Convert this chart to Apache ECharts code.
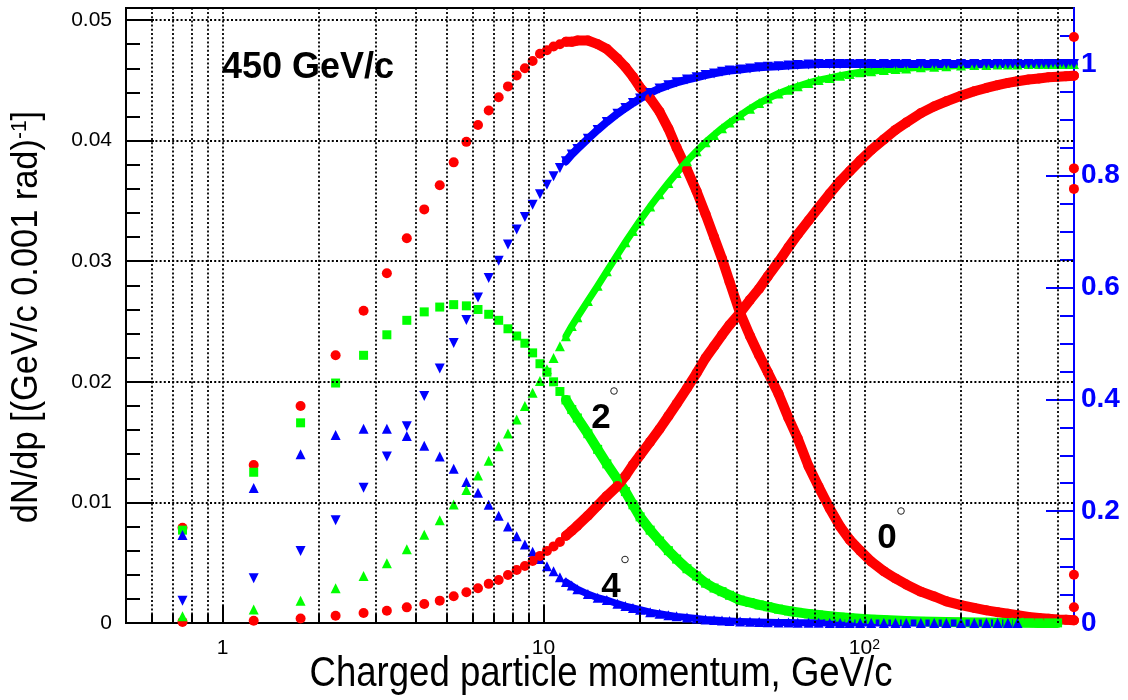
<!DOCTYPE html>
<html><head><meta charset="utf-8">
<script src="https://cdn.jsdelivr.net/npm/echarts@6/dist/echarts.min.js"></script>
<style>html,body{margin:0;padding:0;background:#fff}#c{width:1128px;height:700px}</style>
</head><body><div id="c"></div>
<script>
// momentum bin centres (GeV/c)
const p = [0.75,1.25,1.75,2.25,2.75,3.25,3.75,4.25,4.75,5.25,5.75,6.25,6.75,7.25,7.75,8.25,8.75,9.25,9.75,10.25,10.75,11.25,11.75,
  12.25,12.75,13.75,14.75,15.75,17,18,19,20,21.5,23,24.5,26,28,30,32,34,36,38,41,44,47,50,54,58,62,67,72,78,84,90,97,105,115,125,135,150,165,180,200,220,240,260,280,300,325,350,375,400,425,449.75];
// dN/dp, 0 deg (red circles, left axis)
const dndp0 = [0.0079,0.0131,0.0180,0.0222,0.0259,0.0290,0.0319,0.0343,0.0363,0.0382,0.0399,0.0413,0.0425,0.0436,0.0445,0.0454,0.0460,0.0466,0.0472,0.0475,0.0478,0.0480,0.0482,
  0.0482,0.0483,0.0483,0.0480,0.0476,0.0468,0.0461,0.0453,0.0444,0.0435,0.0424,0.0410,0.0394,0.0376,0.0358,0.0339,0.0320,0.0302,0.0283,0.0257,0.0238,0.0222,0.0208,0.0190,0.0170,0.0153,0.0130,0.0113,0.0095,0.0080,0.0069,0.0060,0.0051,0.0043,0.0037,0.0032,0.0026,0.0022,0.0018,0.00148,0.00125,0.00105,0.0009,0.00077,0.00064,0.0005,0.00042,0.00036,0.0003,0.00026,0.00022];
// dN/dp, 2 deg (green squares, left axis)
const dndp2 = [0.0077,0.0125,0.0166,0.0199,0.0222,0.0239,0.0251,0.0258,0.0262,0.0264,0.0263,0.0260,0.0256,0.0251,0.0244,0.0238,0.0232,0.0224,0.0215,0.0208,0.0200,0.0192,0.0185,
  0.0177,0.0170,0.0157,0.0144,0.0132,0.0119,0.0109,0.0098,0.0088,0.0077,0.0068,0.0060,0.0053,0.0045,0.0039,0.0033,0.0029,0.0026,0.0023,0.0019,0.0017,0.0015,0.00135,0.00115,0.001,0.00088,0.00076,0.00066,0.00056,0.00048,0.00041,0.00035,0.0003,0.00024,0.0002,0.00017,0.00013,0.0001,0.00008,0.00006,0.00005,0.00004,0.00003,0.00003,0.00002,0.00002,0.00001,0.00001,0.00001,null,null];
// dN/dp, 4 deg (blue up-triangles, left axis)
const dndp4 = [0.0073,0.0112,0.0140,0.0156,0.0161,0.0161,0.0155,0.0147,0.0138,0.0128,0.0117,0.0108,0.0098,0.0089,0.0080,0.0072,0.0065,0.0059,0.0053,0.0047,0.0043,0.0038,0.0034,
  0.0031,0.0028,0.0024,0.0021,0.0019,0.0016,0.0014,0.00125,0.0011,0.0009,0.00076,0.00065,0.00055,0.00045,0.00037,0.0003,0.00025,0.0002,0.00017,0.00013,0.0001,0.00008,0.00006,0.00005,0.00004,0.00003,0.00002,0.00002,0.00001,0.00001,0.00001,0.00001,0,0,0,0,0,0,0,0,0,0,0,0,0,null,null,null,null,null,null];
// cumulative fraction, 0 deg (red circles, right axis)
const cum0 = [0.002,0.004,0.008,0.013,0.018,0.022,0.028,0.034,0.040,0.048,0.055,0.062,0.070,0.077,0.086,0.095,0.102,0.111,0.120,0.129,0.137,0.145,0.156,
  0.165,0.174,0.192,0.210,0.227,0.245,0.263,0.283,0.300,0.324,0.347,0.370,0.392,0.420,0.447,0.474,0.495,0.515,0.533,0.555,0.578,0.598,0.620,0.646,0.672,0.695,0.720,0.743,0.768,0.790,0.808,0.827,0.846,0.865,0.882,0.895,0.912,0.924,0.933,0.943,0.951,0.957,0.962,0.966,0.969,0.972,0.974,0.976,0.977,0.978,0.979];
// cumulative fraction, 2 deg (green up-triangles, right axis)
const cum2 = [0.012,0.024,0.040,0.062,0.084,0.107,0.132,0.158,0.184,0.212,0.238,0.264,0.290,0.316,0.339,0.364,0.388,0.412,0.433,0.454,0.474,0.495,0.513,
  0.531,0.547,0.576,0.603,0.629,0.659,0.681,0.701,0.720,0.745,0.767,0.787,0.805,0.826,0.844,0.860,0.873,0.885,0.895,0.908,0.920,0.930,0.938,0.947,0.954,0.960,0.966,0.971,0.975,0.979,0.982,0.985,0.987,0.989,0.991,0.992,0.994,0.995,0.996,0.997,0.998,0.998,0.999,0.999,0.999,1,1,1,1,1,1];
// cumulative fraction, 4 deg (blue down-triangles, right axis)
const cum4 = [0.040,0.080,0.129,0.184,0.242,0.298,0.352,0.406,0.455,0.501,0.542,0.582,0.617,0.648,0.677,0.704,0.726,0.748,0.767,0.784,0.799,0.814,0.826,
  0.838,0.848,0.866,0.882,0.896,0.911,0.921,0.930,0.938,0.948,0.956,0.962,0.967,0.972,0.976,0.980,0.983,0.986,0.988,0.990,0.992,0.994,0.995,0.996,0.997,0.998,0.999,1,1,1,1,1,1,1,1,1,1,1,1,1,1,1,1,1,1,1,1,1,1,1,1];
// last-bin red points at the beam momentum (left axis)
const edgeP = [449.75,449.75,449.75,449.75,449.75];
const edgeVal = [0.0486,0.0377,0.0360,0.0040,0.0013];
// ticks / grid
const xMajor = [1,10,100];
const xMinor = [0.6,0.7,0.8,0.9,2,3,4,5,6,7,8,9,20,30,40,50,60,70,80,90,200,300,400];
const yLeftMajor = [0,0.01,0.02,0.03,0.04,0.05];
const yLeftMinor = [0.002,0.004,0.006,0.008,0.012,0.014,0.016,0.018,0.022,0.024,0.026,0.028,0.032,0.034,0.036,0.038,0.042,0.044,0.046,0.048];
const yRightMajor = [0,0.2,0.4,0.6,0.8,1];
const yRightMinor = [0.05,0.1,0.15,0.25,0.3,0.35,0.45,0.5,0.55,0.65,0.7,0.75,0.85,0.9,0.95,1.05];

const F = '"Liberation Sans", Arial, Helvetica, sans-serif';
const RED = '#ff0000', GREEN = '#00ff00', BLUE = '#0000ff';
const DENSE_FROM = 22;

function mk(vals, yIdx, symbol, size, color, rot, lw) {
  const pts = p.map((x, i) => [x, vals[i]]).filter(d => d[1] !== null);
  const dense = p.slice(DENSE_FROM).map((x, i) => [x, vals[DENSE_FROM + i]]);
  return [
    {type: 'line', xAxisIndex: 0, yAxisIndex: yIdx, data: dense, showSymbol: false, symbol: 'none',
     lineStyle: {color, width: lw, cap: 'round', join: 'round'}, clip: false, silent: true, z: 3},
    {type: 'scatter', xAxisIndex: 0, yAxisIndex: yIdx, data: pts, symbol, symbolSize: size, symbolRotate: rot,
     itemStyle: {color, opacity: 1}, clip: false, silent: true, z: 3}
  ];
}

const gridLineStyle = {color: '#000', width: 1.8, type: [2, 2.2], opacity: 1};
const series = [
  {type: 'line', xAxisIndex: 0, yAxisIndex: 0, data: [], z: 1, silent: true,
   markLine: {silent: true, symbol: 'none', label: {show: false}, animation: false, lineStyle: gridLineStyle,
     emphasis: {disabled: true},
     data: xMajor.concat(xMinor).map(v => ({xAxis: v})).concat(yLeftMajor.slice(1).map(v => ({yAxis: v})))}}
];
series.push(...mk(dndp0, 0, 'circle', 10, RED, 0, 10));
series.push(...mk(dndp2, 0, 'rect', 9, GREEN, 0, 10));
series.push(...mk(dndp4, 0, 'triangle', 10, BLUE, 0, 7));
series.push(...mk(cum0, 2, 'circle', 10, RED, 0, 10));
series.push(...mk(cum2, 2, 'triangle', 10, GREEN, 0, 7));
series.push(...mk(cum4, 2, 'triangle', 10, BLUE, 180, 8));
series.push({type: 'scatter', xAxisIndex: 0, yAxisIndex: 0, data: edgeP.map((x, i) => [x, edgeVal[i]]),
  symbol: 'circle', symbolSize: 10, itemStyle: {color: RED, opacity: 1}, clip: false, silent: true, z: 4});

const tickBlack = {color: '#000', width: 2};
const tickBlue = {color: BLUE, width: 2};
const xBase = {type: 'log', logBase: 10, min: 0.5, max: 450, position: 'bottom', splitLine: {show: false}, minorTick: {show: false}};
const yBase = {type: 'value', splitLine: {show: false}, minorTick: {show: false}};

const option = {
  animation: false,
  backgroundColor: '#fff',
  grid: {left: 126, right: 54, top: 8, bottom: 77, show: true, borderColor: '#000', borderWidth: 2,
         backgroundColor: 'transparent', containLabel: false, outerBoundsMode: 'none'},
  xAxis: [
    Object.assign({}, xBase, {
      axisLine: {show: true, onZero: false, lineStyle: {color: '#000', width: 2}},
      axisTick: {show: true, inside: true, length: 18, customValues: xMajor, lineStyle: tickBlack},
      axisLabel: {show: true, customValues: xMajor, margin: 15, color: '#000', fontSize: 21, fontFamily: F,
        formatter: v => (v === 100 ? '{b|10}{s|2}' : String(v)),
        rich: {b: {fontSize: 21, fontFamily: F, color: '#000'}, s: {fontSize: 14, fontFamily: F, color: '#000', verticalAlign: 'top'}}}
    }),
    Object.assign({}, xBase, {
      axisLine: {show: false, onZero: false},
      axisTick: {show: true, inside: true, length: 9, customValues: xMinor, lineStyle: tickBlack},
      axisLabel: {show: false}
    })
  ],
  yAxis: [
    Object.assign({}, yBase, {min: 0, max: 0.051, position: 'left',
      axisLine: {show: true, onZero: false, lineStyle: {color: '#000', width: 2}},
      axisTick: {show: true, inside: true, length: 28, customValues: yLeftMajor, lineStyle: tickBlack},
      axisLabel: {show: true, customValues: yLeftMajor, margin: 14, color: '#000', fontSize: 21, fontFamily: F,
        formatter: v => (v === 0 ? '0' : v.toFixed(2))}}),
    Object.assign({}, yBase, {min: 0, max: 0.051, position: 'left',
      axisLine: {show: false, onZero: false},
      axisTick: {show: true, inside: true, length: 14, customValues: yLeftMinor, lineStyle: tickBlack},
      axisLabel: {show: false}}),
    Object.assign({}, yBase, {min: 0, max: 1.1, position: 'right',
      axisLine: {show: true, onZero: false, lineStyle: {color: BLUE, width: 2}},
      axisTick: {show: true, inside: true, length: 28, customValues: yRightMajor, lineStyle: tickBlue},
      axisLabel: {show: true, customValues: yRightMajor, margin: 7, color: BLUE, fontSize: 28, fontWeight: 'bold', fontFamily: F,
        formatter: v => (v === 0 ? '0' : v === 1 ? '1' : v.toFixed(1))}}),
    Object.assign({}, yBase, {min: 0, max: 1.1, position: 'right',
      axisLine: {show: false, onZero: false},
      axisTick: {show: true, inside: true, length: 14, customValues: yRightMinor, lineStyle: tickBlue},
      axisLabel: {show: false}})
  ],
  series: series,
  graphic: [
    {type: 'text', x: 222, y: 68, z: 10, silent: true,
     style: {text: '450 GeV/c', font: 'bold 36px ' + F, fill: '#000', align: 'left', verticalAlign: 'middle', textAlign: 'left', textVerticalAlign: 'middle'}},
    {type: 'text', x: 601, y: 418, z: 10, silent: true,
     style: {text: '2', font: 'bold 35px ' + F, fill: '#000', align: 'center', verticalAlign: 'middle', textAlign: 'center', textVerticalAlign: 'middle'}},
    {type: 'text', x: 611, y: 587, z: 10, silent: true,
     style: {text: '4', font: 'bold 35px ' + F, fill: '#000', align: 'center', verticalAlign: 'middle', textAlign: 'center', textVerticalAlign: 'middle'}},
    {type: 'text', x: 887, y: 538, z: 10, silent: true,
     style: {text: '0', font: 'bold 35px ' + F, fill: '#000', align: 'center', verticalAlign: 'middle', textAlign: 'center', textVerticalAlign: 'middle'}},
    {type: 'circle', z: 10, silent: true, shape: {cx: 614, cy: 391, r: 3.3}, style: {fill: 'none', stroke: '#222', lineWidth: 1}},
    {type: 'circle', z: 10, silent: true, shape: {cx: 625, cy: 559.5, r: 3.3}, style: {fill: 'none', stroke: '#222', lineWidth: 1}},
    {type: 'circle', z: 10, silent: true, shape: {cx: 901, cy: 511, r: 3.3}, style: {fill: 'none', stroke: '#222', lineWidth: 1}},
    {type: 'text', x: 601, y: 674, scaleX: 0.87, z: 10, silent: true,
     style: {text: 'Charged particle momentum, GeV/c', font: '42px ' + F, fill: '#000', align: 'center', verticalAlign: 'middle', textAlign: 'center', textVerticalAlign: 'middle'}},
    {type: 'text', x: 27, y: 317, rotation: Math.PI / 2, scaleX: 0.955, z: 10, silent: true,
     style: {text: '{a|dN/dp [(GeV/c 0.001 rad)}{s|-1}{a|]}', fill: '#000', align: 'center', verticalAlign: 'middle', textAlign: 'center', textVerticalAlign: 'middle',
       rich: {a: {fontSize: 36, fontFamily: F, fill: '#000'}, s: {fontSize: 22, fontFamily: F, fill: '#000', verticalAlign: 'top'}}}}
  ]
};
const chart = echarts.init(document.getElementById('c'), null, {renderer: 'canvas'});
chart.setOption(option);
</script>
</body></html>
